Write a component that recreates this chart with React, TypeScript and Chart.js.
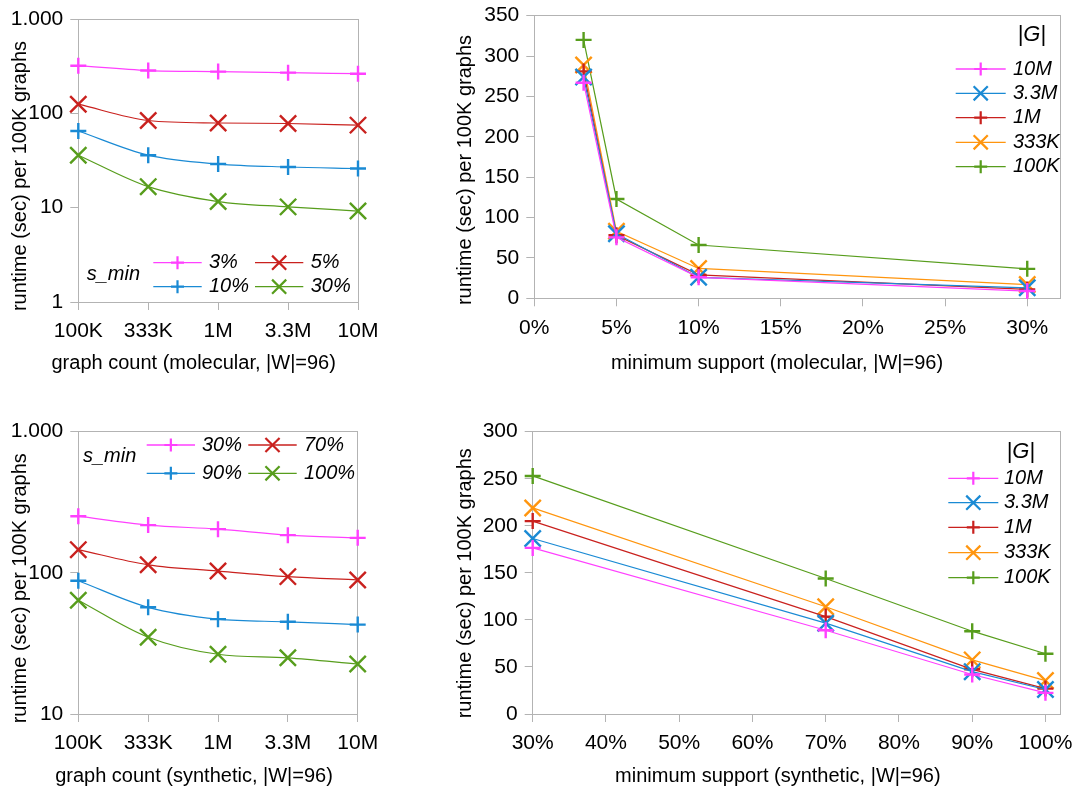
import React, { useEffect, useRef } from 'react';
import { Chart, registerables } from 'chart.js';

Chart.register(...registerables);

// ---------------- data ----------------
const graphCounts = ['100K', '333K', '1M', '3.3M', '10M'];

const molSminLabels = ['3%', '5%', '10%', '30%'];
const molRuntimeS3 = [320, 284, 277, 270, 263];
const molRuntimeS5 = [125, 84, 79, 78, 75];
const molRuntimeS10 = [65, 36, 29, 27, 26];
const molRuntimeS30 = [36, 16.7, 11.6, 10.2, 9.2];
const molLogTicks = [1, 10, 100, 1000];
const molLogTickLabels = ['1', '10', '100', '1.000'];

const synSminLabels = ['30%', '70%', '90%', '100%'];
const synRuntimeS30 = [252, 218, 204, 185, 177];
const synRuntimeS70 = [146, 114, 103, 94, 89];
const synRuntimeS90 = [88, 57, 47, 45, 43];
const synRuntimeS100 = [64, 35, 26.5, 25, 22.6];
const synLogTicks = [10, 100, 1000];
const synLogTickLabels = ['10', '100', '1.000'];

const graphSizeLabels = ['10M', '3.3M', '1M', '333K', '100K'];

const molSupport = [3, 5, 10, 30];
const molG10M = [267, 75.5, 26, 9];
const molG3_3M = [274, 80, 26, 13];
const molG1M = [281, 78, 29, 11];
const molG333K = [289, 83, 37, 17];
const molG100K = [320, 123, 66, 36.5];
const molSupportTicks = [0, 5, 10, 15, 20, 25, 30];
const molSupportRuntimeTicks = [0, 50, 100, 150, 200, 250, 300, 350];

const synSupport = [30, 70, 90, 100];
const synG10M = [176.5, 89, 42, 22.5];
const synG3_3M = [186.5, 96.5, 45, 26];
const synG1M = [205, 103.5, 47.5, 27];
const synG333K = [219, 114, 57.5, 35.5];
const synG100K = [253, 144, 88, 64];
const synSupportTicks = [30, 40, 50, 60, 70, 80, 90, 100];
const synSupportRuntimeTicks = [0, 50, 100, 150, 200, 250, 300];

// ---------------- styles ----------------
const FONT = "'Liberation Sans', Arial, Helvetica, sans-serif";
const AXIS_GRAY = '#b3b3b3';
const TICK_SIZE = 21;
const TITLE_SIZE = 20;
const LEGEND_SIZE = 20;

const MAGENTA = '#ff40ff';
const RED = '#c9211e';
const BLUE = '#1a8ad4';
const GREEN = '#579d1c';
const ORANGE = '#ff950e';

type Style = 'cross' | 'crossRot';
const sminColors = [MAGENTA, RED, BLUE, GREEN];
const sminStyles: Style[] = ['cross', 'crossRot', 'cross', 'crossRot'];
const sizeColors = [MAGENTA, BLUE, RED, ORANGE, GREEN];
const sizeStyles: Style[] = ['cross', 'crossRot', 'cross', 'crossRot', 'cross'];

interface LegendCol { x1: number; x2: number; tx: number }
interface DecorSpec {
  xTitle: string; xTitlePos: [number, number];
  yTitle: string; yTitlePos: [number, number];
  legendTitle: string; legendTitlePos: [number, number]; legendTitleAlign: CanvasTextAlign; legendTitleSize: number;
  labels: string[]; colors: string[]; styles: Style[];
  cols: LegendCol[]; rows: number[];
}

function strokeMarker(ctx: CanvasRenderingContext2D, style: Style, x: number, y: number, r: number) {
  ctx.beginPath();
  if (style === 'cross') {
    ctx.moveTo(x - r, y); ctx.lineTo(x + r, y);
    ctx.moveTo(x, y - r); ctx.lineTo(x, y + r);
  } else {
    const d = r * Math.SQRT1_2;
    ctx.moveTo(x - d, y - d); ctx.lineTo(x + d, y + d);
    ctx.moveTo(x + d, y - d); ctx.lineTo(x - d, y + d);
  }
  ctx.stroke();
}

function decorPlugin(d: DecorSpec) {
  return {
    id: 'decor',
    beforeDatasetsDraw(chart: any) {
      const { ctx, chartArea: a } = chart;
      const al = (v: number) => Math.round(v - 0.5) + 0.5;
      const x0 = al(a.left), x1 = al(a.right), y0 = al(a.top), y1 = al(a.bottom);
      ctx.save();
      ctx.strokeStyle = AXIS_GRAY;
      ctx.lineWidth = 1;
      ctx.strokeRect(x0, y0, x1 - x0, y1 - y0);
      ctx.restore();
    },
    afterDraw(chart: any) {
      const ctx: CanvasRenderingContext2D = chart.ctx;
      ctx.save();
      ctx.fillStyle = '#000';
      ctx.font = `${TITLE_SIZE}px ${FONT}`;
      ctx.textAlign = 'center';
      ctx.textBaseline = 'middle';
      ctx.fillText(d.xTitle, d.xTitlePos[0], d.xTitlePos[1]);
      ctx.save();
      ctx.translate(d.yTitlePos[0], d.yTitlePos[1]);
      ctx.rotate(-Math.PI / 2);
      ctx.fillText(d.yTitle, 0, 0);
      ctx.restore();

      ctx.font = `italic ${d.legendTitleSize}px ${FONT}`;
      ctx.textAlign = d.legendTitleAlign;
      ctx.fillText(d.legendTitle, d.legendTitlePos[0], d.legendTitlePos[1]);
      ctx.font = `italic ${LEGEND_SIZE}px ${FONT}`;
      ctx.textAlign = 'left';
      const nc = d.cols.length;
      d.labels.forEach((lab, i) => {
        const col = d.cols[i % nc];
        const y = d.rows[Math.floor(i / nc)];
        ctx.strokeStyle = d.colors[i];
        ctx.lineWidth = 1.3;
        ctx.beginPath();
        ctx.moveTo(col.x1, y);
        ctx.lineTo(col.x2, y);
        ctx.stroke();
        ctx.lineWidth = 2.2;
        strokeMarker(ctx, d.styles[i], (col.x1 + col.x2) / 2, y, d.styles[i] === 'cross' ? 6.5 : 10);
        ctx.fillStyle = '#000';
        ctx.fillText(lab, col.tx, y);
      });
      ctx.restore();
    },
  };
}

function dataset(label: string, data: any[], color: string, style: Style, smooth: boolean) {
  return {
    label,
    data,
    borderColor: color,
    backgroundColor: color,
    borderWidth: 1.2,
    pointStyle: style,
    pointRadius: style === 'cross' ? 8 : 11.5,
    pointBorderWidth: 2.4,
    pointBorderColor: color,
    pointBackgroundColor: color,
    clip: false,
    cubicInterpolationMode: smooth ? 'monotone' : 'default',
    tension: 0,
  };
}

function xScaleBase(height: number) {
  return {
    grid: { drawOnChartArea: false, drawTicks: true, tickLength: 8, color: AXIS_GRAY, lineWidth: 1 },
    border: { display: false },
    ticks: { color: '#000', font: { family: FONT, size: TICK_SIZE, lineHeight: 1.2 }, padding: 9, maxRotation: 0, autoSkip: false },
    afterFit: (s: any) => {
      s.height = height;
      s.paddingLeft = 0; s.paddingRight = 0; s.paddingTop = 0; s.paddingBottom = 0;
    },
  };
}

function yScaleBase(width: number) {
  return {
    grid: { drawOnChartArea: false, drawTicks: true, tickLength: 8, color: AXIS_GRAY, lineWidth: 1 },
    border: { display: false },
    ticks: { color: '#000', font: { family: FONT, size: TICK_SIZE, lineHeight: 1.2 }, padding: 7 },
    afterFit: (s: any) => {
      s.width = width;
      s.paddingLeft = 0; s.paddingRight = 0; s.paddingTop = 0; s.paddingBottom = 0;
    },
  };
}

function setTicks(values: number[]) {
  return (s: any) => { s.ticks = values.map((v) => ({ value: v })); };
}

function baseOptions(padding: any, scales: any) {
  return {
    responsive: false,
    animation: false,
    events: [],
    layout: { padding },
    plugins: { legend: { display: false }, tooltip: { enabled: false }, title: { display: false } },
    scales,
  };
}

function buildCountChart(
  seriesLabels: string[], series: number[][], logTicks: number[], logLabels: string[],
  padding: any, yWidth: number, decor: DecorSpec,
) {
  return {
    type: 'line',
    data: {
      labels: graphCounts,
      datasets: series.map((s, i) => dataset(seriesLabels[i], s, sminColors[i], sminStyles[i], true)),
    },
    options: baseOptions(padding, {
      x: { type: 'category', offset: false, ...xScaleBase(60) },
      y: {
        type: 'logarithmic', min: logTicks[0], max: logTicks[logTicks.length - 1], bounds: 'data',
        ...yScaleBase(yWidth),
        afterBuildTicks: setTicks(logTicks),
        ticks: { ...yScaleBase(yWidth).ticks, callback: (_v: any, i: number) => logLabels[i] },
      },
    }),
    plugins: [decorPlugin(decor)],
  };
}

function buildSupportChart(
  xs: number[], series: number[][], xMin: number, xMax: number, xTicks: number[],
  yMax: number, yTicks: number[], padding: any, yWidth: number, decor: DecorSpec,
) {
  return {
    type: 'line',
    data: {
      datasets: series.map((s, i) =>
        dataset(graphSizeLabels[i], xs.map((x, j) => ({ x, y: s[j] })), sizeColors[i], sizeStyles[i], false)),
    },
    options: baseOptions(padding, {
      x: {
        type: 'linear', min: xMin, max: xMax, bounds: 'data',
        ...xScaleBase(60),
        afterBuildTicks: setTicks(xTicks),
        ticks: { ...xScaleBase(60).ticks, callback: (v: any) => `${v}%` },
      },
      y: {
        type: 'linear', min: 0, max: yMax, bounds: 'data',
        ...yScaleBase(yWidth),
        afterBuildTicks: setTicks(yTicks),
        ticks: { ...yScaleBase(yWidth).ticks, callback: (v: any) => `${v}` },
      },
    }),
    plugins: [decorPlugin(decor)],
  };
}

const Y_TITLE = 'runtime (sec) per 100K graphs';

const chart1 = () => buildCountChart(
  molSminLabels, [molRuntimeS3, molRuntimeS5, molRuntimeS10, molRuntimeS30],
  molLogTicks, molLogTickLabels,
  { left: 0, top: 19, right: 82, bottom: 32 }, 78.3,
  {
    xTitle: 'graph count (molecular, |W|=96)', xTitlePos: [193.7, 363],
    yTitle: Y_TITLE, yTitlePos: [20, 176],
    legendTitle: 's_min', legendTitlePos: [86.7, 274.5], legendTitleAlign: 'left', legendTitleSize: 20,
    labels: molSminLabels, colors: sminColors, styles: sminStyles,
    cols: [{ x1: 153.3, x2: 201.7, tx: 209 }, { x1: 255, x2: 303.3, tx: 310.7 }],
    rows: [262.7, 286.7],
  },
);

const chart2 = () => buildSupportChart(
  molSupport, [molG10M, molG3_3M, molG1M, molG333K, molG100K],
  0, 32, molSupportTicks, 350, molSupportRuntimeTicks,
  { left: 0, top: 15.7, right: 4.3, bottom: 35.7 }, 94.3,
  {
    xTitle: 'minimum support (molecular, |W|=96)', xTitlePos: [337, 363],
    yTitle: Y_TITLE, yTitlePos: [25, 170],
    legendTitle: '|G|', legendTitlePos: [591.7, 35], legendTitleAlign: 'center', legendTitleSize: 22,
    labels: graphSizeLabels, colors: sizeColors, styles: sizeStyles,
    cols: [{ x1: 515.7, x2: 565.7, tx: 573 }],
    rows: [69, 93.3, 117.7, 142.3, 166.7],
  },
);

const chart3 = () => buildCountChart(
  synSminLabels, [synRuntimeS30, synRuntimeS70, synRuntimeS90, synRuntimeS100],
  synLogTicks, synLogTickLabels,
  { left: 0, top: 21.7, right: 82.3, bottom: 14 }, 78.3,
  {
    xTitle: 'graph count (synthetic, |W|=96)', xTitlePos: [194, 366.7],
    yTitle: Y_TITLE, yTitlePos: [20, 178.3],
    legendTitle: 's_min', legendTitlePos: [83, 46], legendTitleAlign: 'left', legendTitleSize: 20,
    labels: synSminLabels, colors: sminColors, styles: sminStyles,
    cols: [{ x1: 146.7, x2: 195, tx: 202 }, { x1: 248.3, x2: 296.7, tx: 304 }],
    rows: [35, 63.3],
  },
);

const chart4 = () => buildSupportChart(
  synSupport, [synG10M, synG3_3M, synG1M, synG333K, synG100K],
  30, 102, synSupportTicks, 300, synSupportRuntimeTicks,
  { left: 0, top: 21.7, right: 13.3, bottom: 14 }, 92.7,
  {
    xTitle: 'minimum support (synthetic, |W|=96)', xTitlePos: [337.8, 366.7],
    yTitle: Y_TITLE, yTitlePos: [25, 173.3],
    legendTitle: '|G|', legendTitlePos: [580.7, 41.7], legendTitleAlign: 'center', legendTitleSize: 22,
    labels: graphSizeLabels, colors: sizeColors, styles: sizeStyles,
    cols: [{ x1: 508.3, x2: 558.3, tx: 564 }],
    rows: [68.3, 92.7, 117.3, 142.7, 167.7],
  },
);

function Panel(props: { left: number; top: number; width: number; height: number; build: () => any }) {
  const ref = useRef<HTMLCanvasElement | null>(null);
  useEffect(() => {
    if (!ref.current) return;
    const chart = new Chart(ref.current, props.build());
    return () => chart.destroy();
  }, []);
  return (
    <canvas
      ref={ref}
      width={props.width}
      height={props.height}
      style={{ position: 'absolute', left: props.left, top: props.top, width: props.width, height: props.height }}
    />
  );
}

export default function App() {
  return (
    <div style={{ position: 'absolute', left: 0, top: 0, width: 1074, height: 788, overflow: 'hidden', background: '#fff' }}>
      <Panel left={0} top={0} width={440} height={394} build={chart1} />
      <Panel left={440} top={0} width={634} height={394} build={chart2} />
      <Panel left={0} top={410} width={440} height={378} build={chart3} />
      <Panel left={440} top={410} width={634} height={378} build={chart4} />
    </div>
  );
}
